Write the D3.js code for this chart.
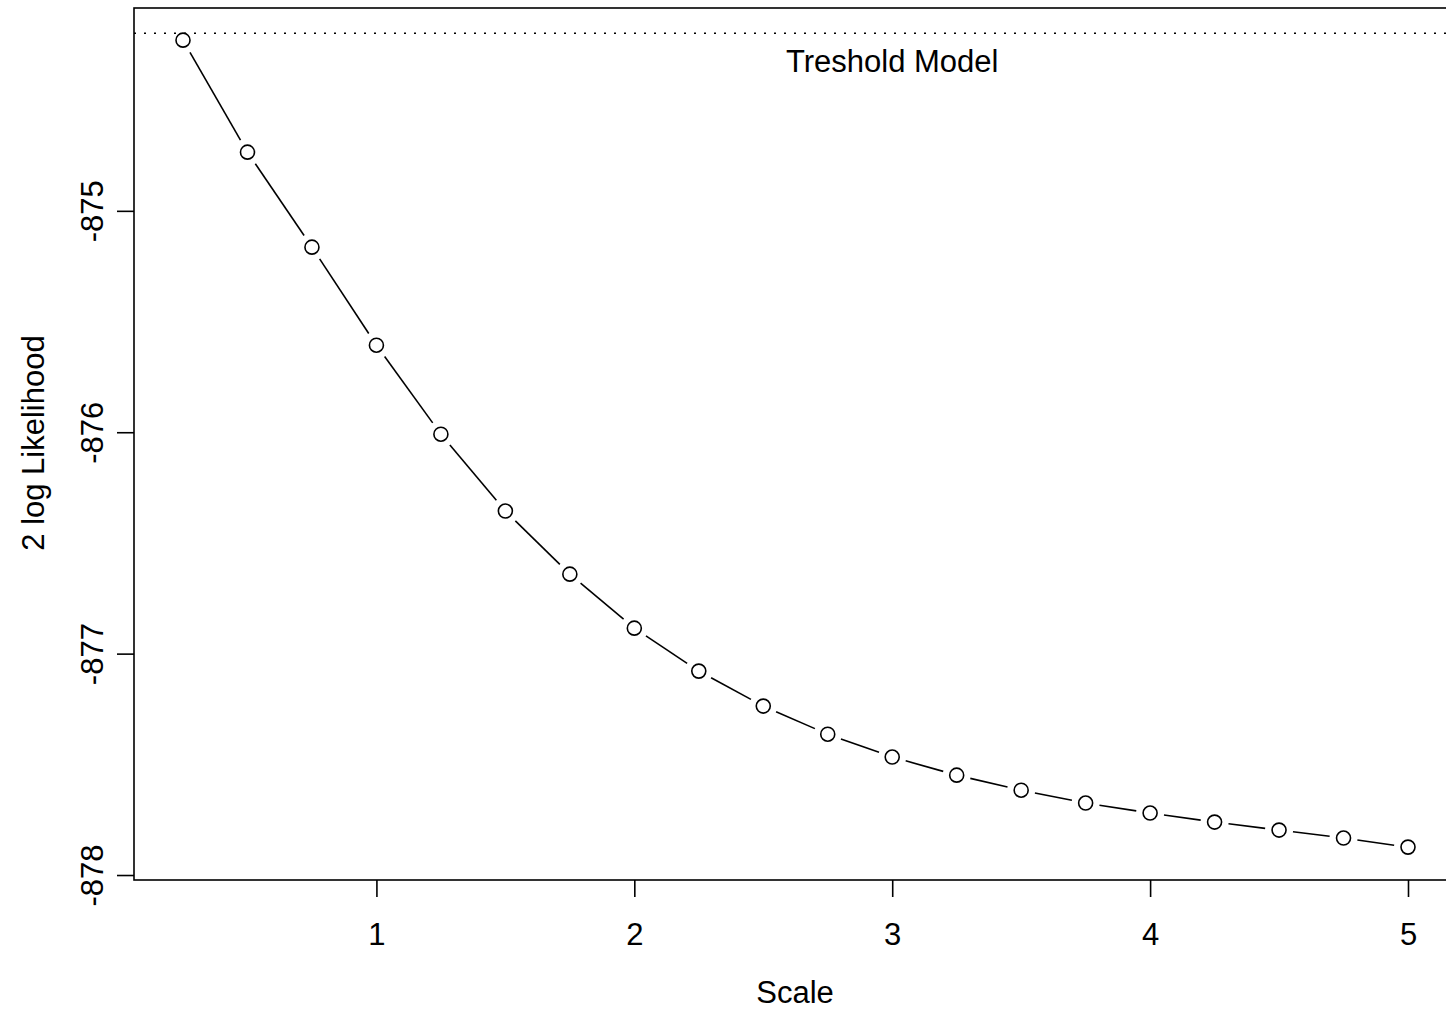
<!DOCTYPE html>
<html>
<head>
<meta charset="utf-8">
<script src="https://cdn.jsdelivr.net/npm/d3@7"></script>
<style>
  body { margin: 0; background: #fff; overflow: hidden; }
  svg text { font-family: "Liberation Sans", Arial, sans-serif; fill: #000; }
</style>
</head>
<body>
<svg id="chart" width="1446" height="1012"></svg>
<script>
// data
const scaleValues = [0.25, 0.5, 0.75, 1, 1.25, 1.5, 1.75, 2, 2.25, 2.5, 2.75, 3, 3.25, 3.5, 3.75, 4, 4.25, 4.5, 4.75, 5];
const logLik = [-874.229, -874.735, -875.164, -875.607, -876.009, -876.356, -876.641, -876.885, -877.079, -877.237,
                -877.364, -877.467, -877.549, -877.617, -877.675, -877.720, -877.761, -877.797, -877.833, -877.874];
const thresholdValue = -874.198;
const thresholdLabel = "Treshold Model";
const xTicks = [1, 2, 3, 4, 5];
const yTicks = [-875, -876, -877, -878];

const svg = d3.select("#chart");
const plotL = 134, plotR = 1457, plotT = 8, plotB = 880;
const fs = 31;

const x = d3.scaleLinear().domain([0.06, 5.19]).range([plotL, plotR]);
const y = d3.scaleLinear().domain([-878.0225, -874.0838]).range([plotB, plotT]);

// box
svg.append("rect")
  .attr("x", plotL).attr("y", plotT)
  .attr("width", plotR - plotL).attr("height", plotB - plotT)
  .attr("fill", "none").attr("stroke", "#000").attr("stroke-width", 1.6);

// axes (plain hyphen for negatives, like R)
const fmt = d => String(d);
const xAxis = svg.append("g").attr("transform", `translate(0,${plotB})`)
  .call(d3.axisBottom(x).tickValues(xTicks).tickSize(17).tickFormat(fmt));
const yAxis = svg.append("g").attr("transform", `translate(${plotL},0)`)
  .call(d3.axisLeft(y).tickValues(yTicks).tickSize(17).tickFormat(fmt));
[xAxis, yAxis].forEach(g => {
  g.select(".domain").remove();
  g.selectAll(".tick line").attr("stroke", "#000").attr("stroke-width", 1.6);
  g.selectAll("text").attr("font-size", fs).attr("font-family", "Liberation Sans, Arial, sans-serif").attr("fill", "#000");
});
xAxis.selectAll(".tick text").attr("dy", "0.35em").attr("y", 54);
yAxis.selectAll(".tick text")
  .attr("x", null).attr("dy", null)
  .attr("text-anchor", "middle")
  .attr("transform", "translate(-41,0) rotate(-90)")
  .attr("y", 10);

// axis titles
svg.append("text").attr("x", 795).attr("y", 1003)
  .attr("text-anchor", "middle").attr("font-size", fs).text("Scale");
svg.append("text").attr("transform", "translate(44,443) rotate(-90)")
  .attr("text-anchor", "middle").attr("font-size", fs).text("2 log Likelihood");

// threshold line
svg.append("line")
  .attr("x1", plotL).attr("x2", plotR)
  .attr("y1", y(thresholdValue)).attr("y2", y(thresholdValue))
  .attr("stroke", "#000").attr("stroke-width", 1.6).attr("stroke-dasharray", "2,8");
svg.append("text").attr("x", x(3)).attr("y", 72)
  .attr("text-anchor", "middle").attr("font-size", fs).text(thresholdLabel);

// type="b": segments with gaps around the points
const pts = scaleValues.map((v, i) => [x(v), y(logLik[i])]);
const gap = 14;
const segs = d3.pairs(pts).map(([a, b]) => {
  const dx = b[0] - a[0], dy = b[1] - a[1];
  const len = Math.hypot(dx, dy);
  const ux = dx / len, uy = dy / len;
  return [a[0] + ux * gap, a[1] + uy * gap, b[0] - ux * gap, b[1] - uy * gap];
});
svg.selectAll(".seg").data(segs).enter().append("line")
  .attr("class", "seg")
  .attr("x1", d => d[0]).attr("y1", d => d[1])
  .attr("x2", d => d[2]).attr("y2", d => d[3])
  .attr("stroke", "#000").attr("stroke-width", 1.6);

svg.selectAll(".pt").data(pts).enter().append("circle")
  .attr("class", "pt")
  .attr("cx", d => d[0]).attr("cy", d => d[1]).attr("r", 7)
  .attr("fill", "none").attr("stroke", "#000").attr("stroke-width", 1.6);
</script>
</body>
</html>
